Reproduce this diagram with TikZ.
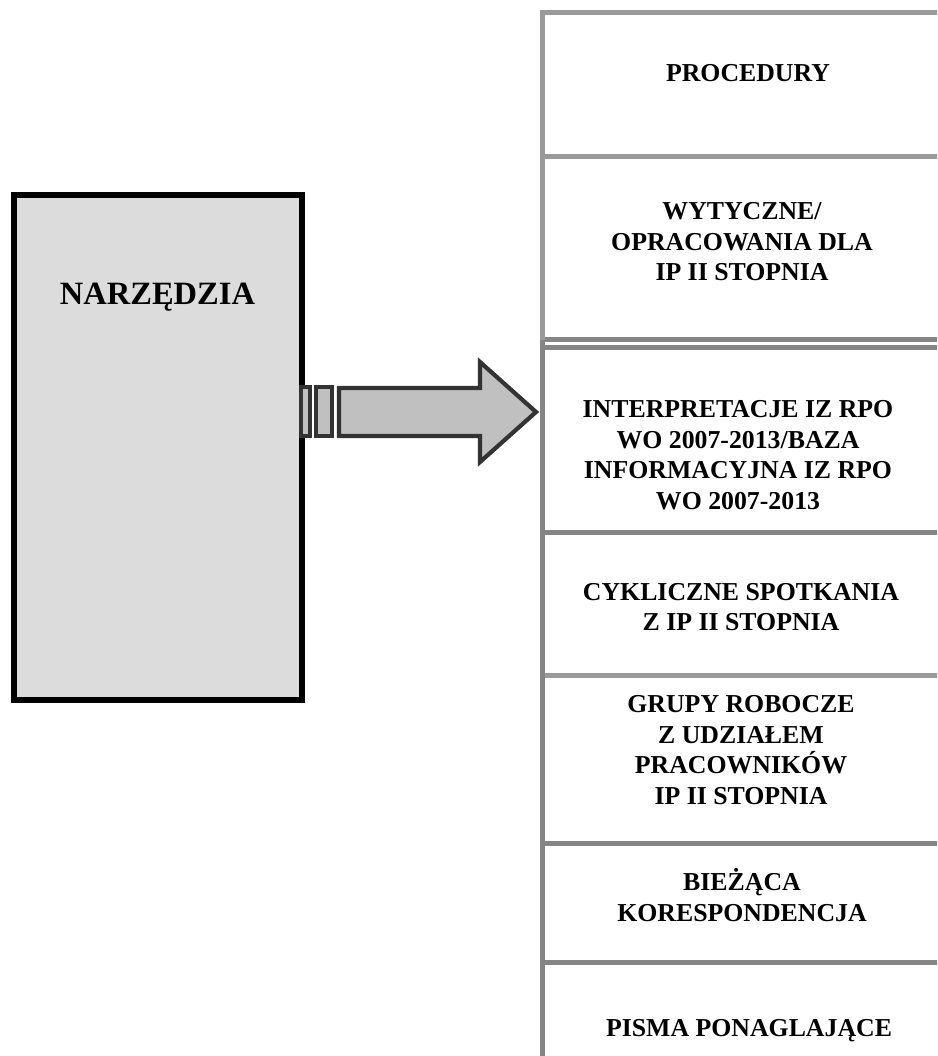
\documentclass[tikz,border=0pt]{standalone}
\usepackage{fontspec}
\setmainfont{Liberation Serif}
\definecolor{boxfill}{HTML}{DCDCDC}
\definecolor{arrfill}{HTML}{C0C0C0}
\definecolor{arrline}{HTML}{333333}
\definecolor{colA}{HTML}{9A9A9A}
\definecolor{colB}{HTML}{858585}
\tikzset{
  lbl/.style={align=center, inner sep=0pt, font=\fontsize{25.8}{30.5}\selectfont\bfseries},
  bigbox/.style={draw=black, line width=6pt, fill=boxfill},
  arrshape/.style={draw=arrline, line width=4.2pt, fill=arrfill, line join=miter},
  rulea/.style={draw=colA, line width=5pt},
  ruleb/.style={draw=colB, line width=5pt}
}
\begin{document}
\begin{tikzpicture}[x=1pt,y=-1pt]
\useasboundingbox (0,0) rectangle (937,1056);
\begin{scope}
\clip (0,0) rectangle (937,1056);
% left box
\draw[bigbox] (14,195) rectangle (302,700);
\node[lbl, font=\fontsize{32.5}{38}\selectfont\bfseries] (narz) at (157.5,297) {NARZĘDZIA};
% arrow parts
\draw[arrshape] (301,387) rectangle (310,436);
\draw[arrshape] (316,387) rectangle (332,436);
\draw[arrshape] (339,388) -- (480,388) -- (480,362) -- (536,412) -- (480,462) -- (480,436) -- (339,436) -- cycle;
% right column rules
\draw[rulea] (542.5,13) -- (940,13);
\draw[rulea] (542.5,157) -- (940,157);
\draw[ruleb] (542.5,339.5) -- (940,339.5);
\draw[ruleb] (542.5,347.5) -- (940,347.5);
\draw[ruleb] (542.5,532) -- (940,532);
\draw[rulea] (542.5,675) -- (940,675);
\draw[ruleb] (542.5,843) -- (940,843);
\draw[ruleb] (542.5,962) -- (940,962);
\draw[rulea] (542.5,10.5) -- (542.5,340);
\draw[ruleb] (542.5,340) -- (542.5,1060);
% labels
\node[lbl] (proc) at (748,73) {PROCEDURY};
\node[lbl] (wyt) at (742,242) {WYTYCZNE/\\OPRACOWANIA DLA\\IP II STOPNIA};
\node[lbl] (interp) at (738,455) {INTERPRETACJE IZ RPO\\WO 2007-2013/BAZA\\INFORMACYJNA IZ RPO\\WO 2007-2013};
\node[lbl] (cykl) at (741,607) {CYKLICZNE SPOTKANIA\\Z IP II STOPNIA};
\node[lbl] (grupy) at (741,750) {GRUPY ROBOCZE\\Z UDZIAŁEM\\PRACOWNIKÓW\\IP II STOPNIA};
\node[lbl] (biez) at (742,895) {BIEŻĄCA\\KORESPONDENCJA};
\node[lbl] (pisma) at (749,1031) {PISMA PONAGLAJĄCE};
\end{scope}
\end{tikzpicture}
\end{document}
